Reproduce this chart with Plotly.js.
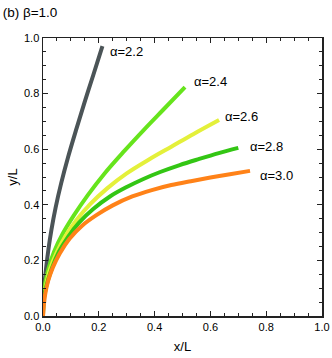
<!DOCTYPE html>
<html>
<head>
<meta charset="utf-8">
<script src="https://cdn.plot.ly/plotly-3.0.1.min.js"></script>
<style>
  html, body { margin: 0; padding: 0; background: #fff; }
  #chart { width: 332px; height: 358px; }
</style>
</head>
<body>
<div id="chart"></div>
<script>
// curve data (x/L, y/L)
const x22 = [0, 0.002, 0.006, 0.012, 0.02, 0.03, 0.045, 0.065, 0.09, 0.12, 0.15, 0.18, 0.213];
const y22 = [0, 0.06, 0.12, 0.18, 0.244, 0.309, 0.389, 0.477, 0.572, 0.674, 0.772, 0.866, 0.971];

const x24 = [0, 0.002, 0.008, 0.02, 0.04, 0.07, 0.11, 0.16, 0.22, 0.29, 0.36, 0.43, 0.509];
const y24 = [0, 0.07, 0.118, 0.172, 0.232, 0.295, 0.361, 0.434, 0.512, 0.592, 0.668, 0.741, 0.823];

const x26 = [0, 0.002, 0.01, 0.025, 0.05, 0.08, 0.12, 0.17, 0.23, 0.3, 0.38, 0.46, 0.54, 0.631];
const y26 = [0, 0.06, 0.108, 0.168, 0.23, 0.287, 0.345, 0.403, 0.459, 0.513, 0.563, 0.609, 0.655, 0.705];

const x28 = [0, 0.002, 0.01, 0.032, 0.057, 0.09, 0.13, 0.18, 0.24, 0.3, 0.36, 0.42, 0.49, 0.56, 0.63, 0.70];
const y28 = [0, 0.055, 0.1, 0.172, 0.231, 0.285, 0.337, 0.385, 0.43, 0.464, 0.493, 0.518, 0.543, 0.565, 0.586, 0.605];

const x30 = [0, 0.003, 0.008, 0.018, 0.035, 0.06, 0.095, 0.14, 0.19, 0.25, 0.32, 0.39, 0.46, 0.53, 0.6, 0.67, 0.742];
const y30 = [0, 0.039, 0.079, 0.125, 0.174, 0.225, 0.278, 0.325, 0.362, 0.398, 0.43, 0.453, 0.471, 0.485, 0.498, 0.51, 0.522];

const labels = ['α=2.2', 'α=2.4', 'α=2.6', 'α=2.8', 'α=3.0'];
const labelX = [0.233, 0.534, 0.645, 0.735, 0.771];
const labelY = [0.95, 0.843, 0.719, 0.609, 0.507];

const colors = ['#4b5457', '#66e41c', '#e4f03a', '#33c614', '#ff8218'];
const xs = [x22, x24, x26, x28, x30];
const ys = [y22, y24, y26, y28, y30];

const traces = xs.map((x, i) => ({
    x: x,
    y: ys[i],
    mode: 'lines',
    line: { color: colors[i], width: 4, shape: 'spline', smoothing: 1 },
    name: labels[i],
    showlegend: false
}));

const annotations = labels.map((t, i) => ({
    x: labelX[i],
    y: labelY[i],
    xref: 'x',
    yref: 'y',
    text: t,
    showarrow: false,
    xanchor: 'left',
    yanchor: 'middle',
    font: { size: 13, color: '#000' }
}));

const axisStyle = {
    range: [0, 1],
    dtick: 0.2,
    tickformat: '.1f',
    ticks: 'inside',
    ticklen: 5,
    tickwidth: 1,
    tickcolor: '#222',
    mirror: 'ticks',
    showline: true,
    linecolor: '#222',
    linewidth: 1.5,
    showgrid: false,
    zeroline: false,
    tickfont: { size: 11, color: '#000' },
    minor: { dtick: 0.05, ticks: 'inside', ticklen: 3, tickcolor: '#222', tickwidth: 1 }
};

const layout = {
    width: 332,
    height: 358,
    margin: { l: 43, r: 10, t: 38, b: 42 },
    paper_bgcolor: '#fff',
    plot_bgcolor: '#fff',
    font: { family: 'Liberation Sans, Arial, sans-serif', color: '#000' },
    title: {
        text: '(b) β=1.0',
        font: { size: 13.5 },
        x: 0.008,
        xref: 'container',
        xanchor: 'left',
        y: 0.966,
        yref: 'container',
        yanchor: 'middle'
    },
    xaxis: Object.assign({}, axisStyle, {
        title: { text: 'x/L', font: { size: 13 }, standoff: 10 }
    }),
    yaxis: Object.assign({}, axisStyle, {
        title: { text: 'y/L', font: { size: 13 }, standoff: 3 }
    }),
    annotations: annotations
};

Plotly.newPlot('chart', traces, layout, { displayModeBar: false, staticPlot: true });
</script>
</body>
</html>
